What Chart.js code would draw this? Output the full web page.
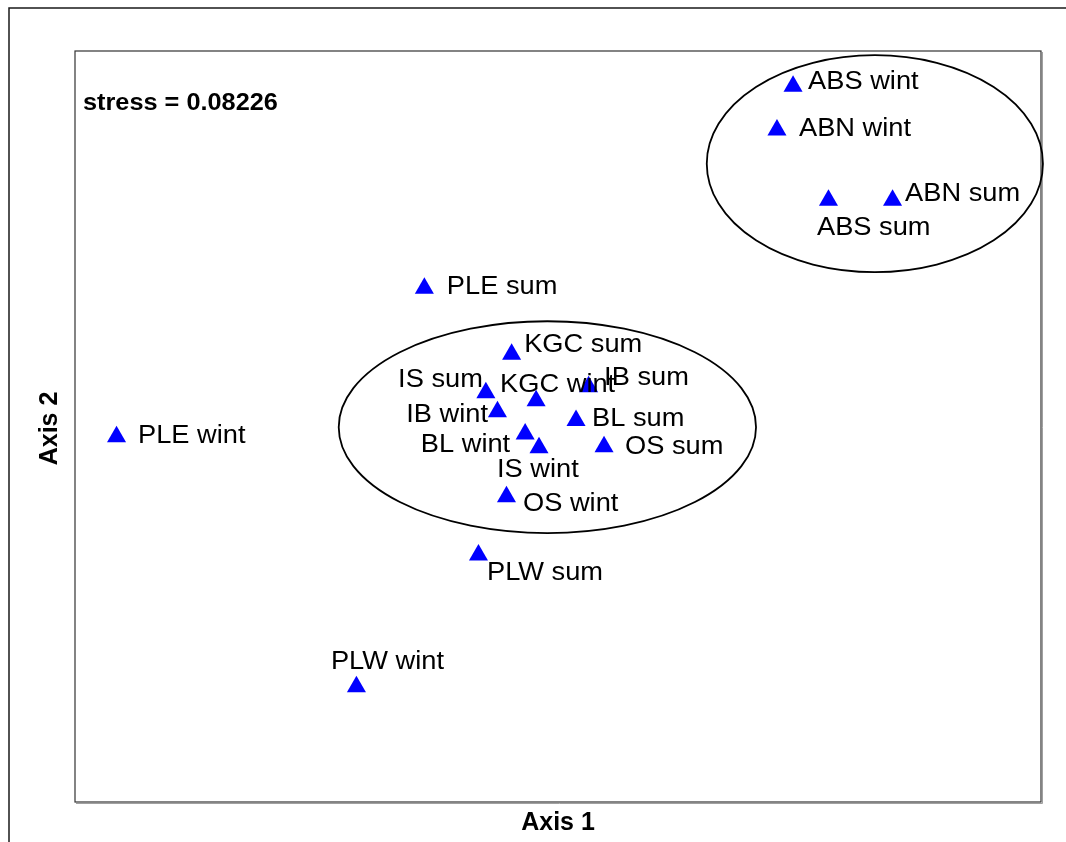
<!DOCTYPE html>
<html>
<head>
<meta charset="utf-8">
<title>NMDS ordination</title>
<script src="https://cdn.jsdelivr.net/npm/chart.js@4.4.1/dist/chart.umd.min.js"></script>
<style>
  html, body { margin: 0; padding: 0; background: #ffffff; }
  canvas { display: block; }
</style>
</head>
<body>
<canvas id="nmds" width="1066" height="842"></canvas>
<script>
// Sample sites and their NMDS scores
const sites = [
  'ABS wint', 'ABN wint', 'ABS sum', 'ABN sum', 'PLE sum', 'KGC sum',
  'IS sum', 'KGC wint', 'IB sum', 'IB wint', 'BL sum', 'BL wint',
  'IS wint', 'OS sum', 'OS wint', 'PLW sum', 'PLE wint', 'PLW wint'
];
const axis1 = [
  0.730, 0.680, 0.840, 1.039, -0.415, -0.144,
  -0.224, -0.068, 0.095, -0.188, 0.056, -0.102,
  -0.059, 0.143, -0.160, -0.247, -1.371, -0.626
];
const axis2 = [
  1.060, 0.924, 0.705, 0.705, 0.431, 0.225,
  0.105, 0.080, 0.124, 0.046, 0.019, -0.023,
  -0.066, -0.063, -0.219, -0.400, -0.032, -0.811
];
const stressValue = '0.08226';

// Group ellipses (centre and semi-axes in score units)
const ellipseCx = [0.984, -0.033];
const ellipseCy = [0.819, -0.002];
const ellipseRx = [0.522, 0.648];
const ellipseRy = [0.338, 0.330];

// Axis extents
const xRange = [-1.5, 1.5];
const yRange = [-1.17, 1.17];

// Label placement for each site: text alignment, pixel offset from the marker
const labelLayout = [
  ['left', 15, 3], ['left', 22, 6], ['left', -11.5, 35], ['left', 12.5, 1],
  ['left', 22.5, 6], ['left', 12.5, -2], ['right', -3, -6], ['left', -36, -9],
  ['left', 15.5, -2], ['right', -9.5, 10], ['left', 16, 6], ['right', -15, 18],
  ['left', -42, 29], ['left', 21, 7], ['left', 16.5, 14], ['left', 8.5, 25],
  ['left', 21.5, 6], ['left', -25.5, -18]
];

const FONT = '"Liberation Sans", Arial, Helvetica, sans-serif';

function stretchedText(ctx, text, x, y, align, font, sx) {
  ctx.save();
  ctx.font = font;
  ctx.textAlign = align;
  ctx.textBaseline = 'alphabetic';
  ctx.fillStyle = '#000000';
  ctx.translate(x, y);
  ctx.scale(sx, 1);
  ctx.fillText(text, 0, 0);
  ctx.restore();
}

const nmdsDecor = {
  id: 'nmdsDecor',
  beforeDraw(chart) {
    const ctx = chart.ctx;
    const a = chart.chartArea;
    ctx.save();
    ctx.fillStyle = '#ffffff';
    ctx.fillRect(0, 0, chart.width, chart.height);
    // outer page frame
    ctx.strokeStyle = '#1a1a1a';
    ctx.lineWidth = 1.5;
    ctx.beginPath();
    ctx.moveTo(9, chart.height + 2);
    ctx.lineTo(9, 8);
    ctx.lineTo(chart.width + 2, 8);
    ctx.stroke();
    // plot frame with soft shadow
    ctx.strokeStyle = '#a0a0a0';
    ctx.lineWidth = 1;
    ctx.beginPath();
    ctx.moveTo(a.left + 1, a.bottom + 1.5);
    ctx.lineTo(a.right + 1.5, a.bottom + 1.5);
    ctx.lineTo(a.right + 1.5, a.top + 1);
    ctx.stroke();
    ctx.strokeStyle = '#333333';
    ctx.lineWidth = 1.2;
    ctx.strokeRect(a.left, a.top, a.right - a.left, a.bottom - a.top);
    ctx.restore();
  },
  beforeDatasetsDraw(chart) {
    const ctx = chart.ctx;
    const xs = chart.scales.x;
    const ys = chart.scales.y;
    ctx.save();
    ctx.strokeStyle = '#000000';
    ctx.lineWidth = 1.8;
    for (let i = 0; i < ellipseCx.length; i++) {
      const cx = xs.getPixelForValue(ellipseCx[i]);
      const cy = ys.getPixelForValue(ellipseCy[i]);
      const rx = Math.abs(xs.getPixelForValue(ellipseCx[i] + ellipseRx[i]) - cx);
      const ry = Math.abs(ys.getPixelForValue(ellipseCy[i] + ellipseRy[i]) - cy);
      ctx.beginPath();
      ctx.ellipse(cx, cy, rx, ry, 0, 0, Math.PI * 2);
      ctx.stroke();
    }
    ctx.restore();
  },
  afterDatasetsDraw(chart) {
    const ctx = chart.ctx;
    const a = chart.chartArea;
    const meta = chart.getDatasetMeta(0);
    meta.data.forEach((pt, i) => {
      const [align, dx, dy] = labelLayout[i];
      stretchedText(ctx, sites[i], pt.x + dx, pt.y + dy, align, '25px ' + FONT, 1.09);
    });
    stretchedText(ctx, 'stress = ' + stressValue, a.left + 8, a.top + 59, 'left', 'bold 23px ' + FONT, 1.1);
    // axis titles
    stretchedText(ctx, 'Axis 1', (a.left + a.right) / 2, 830, 'center', 'bold 25px ' + FONT, 1.0);
    ctx.save();
    ctx.translate(57, (a.top + a.bottom) / 2 + 2);
    ctx.rotate(-Math.PI / 2);
    stretchedText(ctx, 'Axis 2', 0, 0, 'center', 'bold 25px ' + FONT, 1.0);
    ctx.restore();
  }
};

new Chart(document.getElementById('nmds'), {
  type: 'scatter',
  data: {
    labels: sites,
    datasets: [{
      label: 'Sites',
      data: axis1.map((v, i) => ({ x: v, y: axis2[i] })),
      pointStyle: 'triangle',
      pointRadius: 11,
      pointHoverRadius: 11,
      backgroundColor: '#0000ff',
      borderColor: '#0000ff',
      borderWidth: 0
    }]
  },
  options: {
    responsive: false,
    devicePixelRatio: 1,
    animation: false,
    layout: { padding: { left: 75, top: 51, right: 25, bottom: 40 } },
    plugins: { legend: { display: false }, tooltip: { enabled: false } },
    scales: {
      x: { type: 'linear', min: xRange[0], max: xRange[1], display: false },
      y: { type: 'linear', min: yRange[0], max: yRange[1], display: false }
    }
  },
  plugins: [nmdsDecor]
});
</script>
</body>
</html>
